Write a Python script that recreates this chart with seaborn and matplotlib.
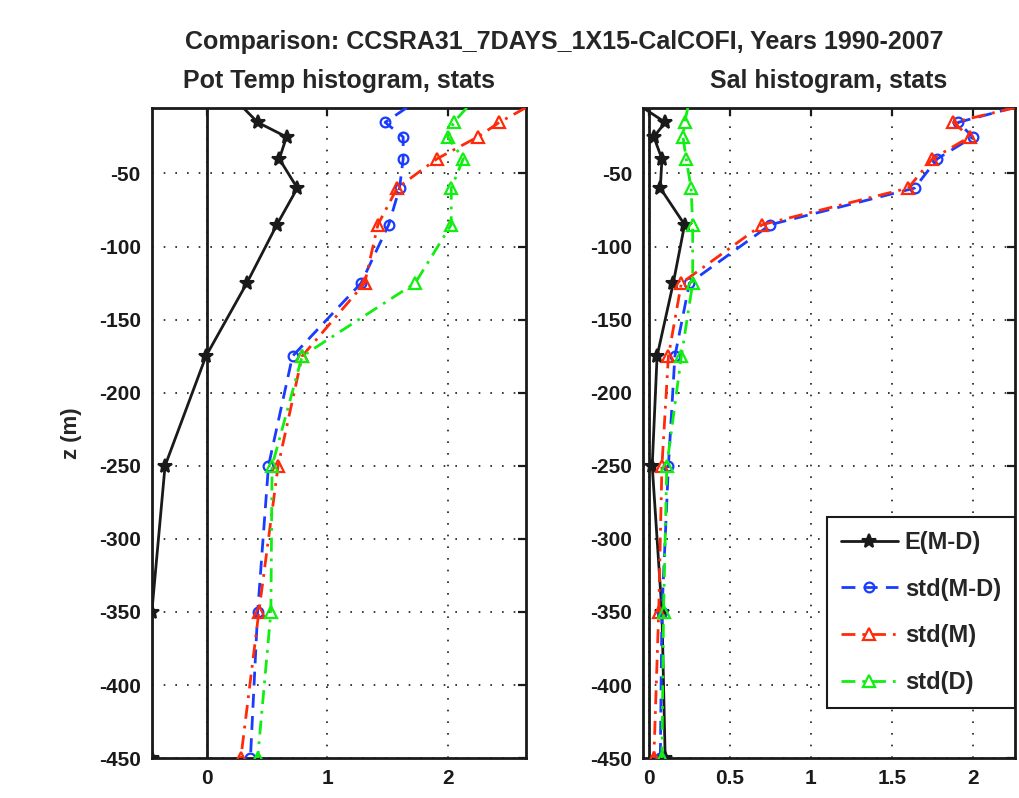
import matplotlib
matplotlib.use('Agg')
import matplotlib.pyplot as plt
from matplotlib import font_manager
import seaborn as sns

# depth levels (m)
depth = [-5, -15, -25, -40, -60, -85, -125, -175, -250, -350, -450]

# potential temperature stats
temp_mean_diff = [0.30, 0.42, 0.66, 0.60, 0.75, 0.58, 0.33, -0.01, -0.35, -0.46, -0.46]
temp_std_diff = [1.66, 1.48, 1.63, 1.63, 1.60, 1.51, 1.28, 0.71, 0.51, 0.42, 0.36]
temp_std_model = [2.65, 2.43, 2.25, 1.91, 1.58, 1.42, 1.31, 0.79, 0.59, 0.43, 0.28]
temp_std_data = [2.16, 2.05, 2.00, 2.13, 2.03, 2.03, 1.73, 0.79, 0.54, 0.53, 0.42]

# salinity stats
sal_mean_diff = [-0.037, 0.10, 0.03, 0.08, 0.07, 0.22, 0.15, 0.05, 0.02, 0.08, 0.10]
sal_std_diff = [2.25, 1.91, 2.00, 1.78, 1.64, 0.75, 0.25, 0.16, 0.12, 0.08, 0.07]
sal_std_model = [2.26, 1.88, 1.98, 1.75, 1.60, 0.70, 0.20, 0.12, 0.08, 0.06, 0.03]
sal_std_data = [0.24, 0.22, 0.21, 0.23, 0.26, 0.27, 0.27, 0.20, 0.11, 0.09, 0.08]

labels = ['E(M-D)', 'std(M-D)', 'std(M)', 'std(D)']
yticks = [-50, -100, -150, -200, -250, -300, -350, -400, -450]

sns.set_theme(style='white')

# narrow bold font if available
try:
    font_manager.findfont('Liberation Sans Narrow', fallback_to_default=False)
    fam, scale = 'Liberation Sans Narrow', 1.15
except Exception:
    fam, scale = 'Liberation Sans', 1.0
plt.rcParams['font.family'] = [fam, 'DejaVu Sans']
plt.rcParams['font.weight'] = 'bold'
plt.rcParams['axes.unicode_minus'] = False

fs_title = 18 * scale
fs_tick = 15 * scale
fs_leg = 17 * scale

blue, red, green = '#1a3cff', '#ff2a0a', '#11ee11'
# surface point sits on the top edge, so no marker there
mk = list(range(1, len(depth)))
styles = [
    dict(color='k', linestyle='-', marker='*', markersize=10, mew=1.5, mec='k', mfc='k'),
    dict(color=blue, linestyle=(0, (5, 3)), marker='o', markersize=7, mfc='none', mec=blue, mew=1.6),
    dict(color=red, linestyle=(0, (5, 2.5, 1, 2.5)), marker='^', markersize=8, mfc='none', mec=red, mew=1.6),
    dict(color=green, linestyle=(0, (5, 2.5, 1, 2.5)), marker='^', markersize=8, mfc='none', mec=green, mew=1.6),
]

fig = plt.figure(figsize=(10.19, 7.98), dpi=100)
ax1 = fig.add_axes([0.149, 0.050, 0.367, 0.815])
ax2 = fig.add_axes([0.631, 0.050, 0.365, 0.815])


def draw(ax, series, xticks, xticklabels):
    ax.axvline(0, color='k', lw=2, zorder=1)
    for vals, lab, st in zip(series, labels, styles):
        sns.lineplot(x=vals, y=depth, sort=False, estimator=None, ax=ax,
                     lw=2, label=lab, zorder=3, markevery=mk, **st)
    ax.set_xlim(min(min(s) for s in series), max(max(s) for s in series))
    ax.set_ylim(-450, -5)
    ax.set_xticks(xticks)
    ax.set_xticklabels(xticklabels)
    ax.set_yticks(yticks)
    ax.grid(True, color='k', linestyle=(0, (1, 6)), lw=1.2)
    ax.tick_params(direction='in', top=True, right=True, length=6, width=1.6,
                   labelsize=fs_tick, pad=8, colors='k')
    for sp in ax.spines.values():
        sp.set_visible(True)
        sp.set_color('k')
        sp.set_linewidth(2)
    ax.set_xlabel('')
    ax.set_ylabel('')


draw(ax1, [temp_mean_diff, temp_std_diff, temp_std_model, temp_std_data],
     [0, 1, 2], ['0', '1', '2'])
draw(ax2, [sal_mean_diff, sal_std_diff, sal_std_model, sal_std_data],
     [0, 0.5, 1, 1.5, 2], ['0', '0.5', '1', '1.5', '2'])

ax1.get_legend().remove()
ax1.set_ylabel('z (m)', fontsize=16 * scale, fontweight='bold', labelpad=12)
ax1.set_title('Pot Temp histogram, stats', fontsize=fs_title, fontweight='bold', pad=14)
ax2.set_title('Sal histogram, stats', fontsize=fs_title, fontweight='bold', pad=14)

leg = ax2.legend(loc='lower right', bbox_to_anchor=(1.0, 0.077), fontsize=fs_leg,
                 handlelength=2.4, labelspacing=1.0, borderpad=0.6,
                 handletextpad=0.3, fancybox=False, framealpha=1, borderaxespad=0)
leg.get_frame().set_edgecolor('k')
leg.get_frame().set_linewidth(1.5)
for t in leg.get_texts():
    t.set_fontweight('bold')

fig.text(0.554, 0.947, 'Comparison: CCSRA31_7DAYS_1X15-CalCOFI, Years 1990-2007',
         ha='center', va='center', fontsize=fs_title, fontweight='bold')

fig.savefig('out.png', dpi=100)
